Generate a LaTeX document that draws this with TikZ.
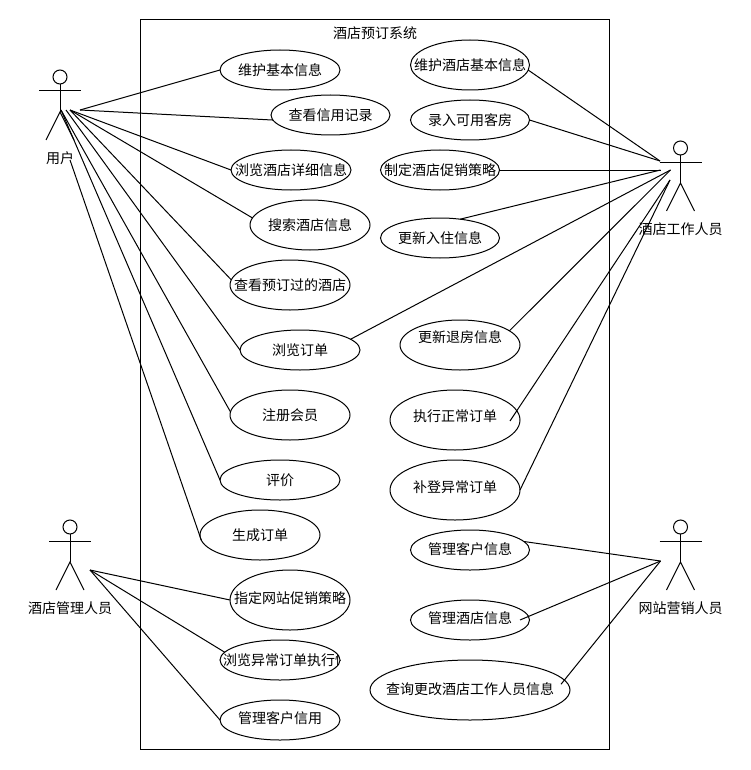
\documentclass[tikz,border=0pt]{standalone}
\usepackage{fontspec}
\setmainfont{Noto Sans CJK SC}
\usetikzlibrary{shapes.geometric}
\tikzset{
    usecase/.style={draw,ellipse,line width=.75pt,inner sep=0pt,outer sep=0pt},
    figure/.style={line width=.75pt},
    assoc/.style={line width=.75pt},
    caption/.style={inner sep=0pt}
}
\begin{document}
\begin{tikzpicture}[x=.75pt,y=-.75pt,font=\fontsize{10.5}{12}\selectfont]
    \useasboundingbox (0,0) rectangle (750,770);
    \node[inner sep=0pt,outer sep=0pt,minimum width=469*.75pt,minimum height=729*.75pt,draw,line width=.75pt] (system) at (374.5,384.5) {};
    \node[caption] (title) at (375,33) {酒店预订系统};
    \foreach \x/\y/\w/\h/\dy/\name/\txt in {
        280/70/120/40/0/maintain/维护基本信息,
        330.5/115/119/40/0/credit/查看信用记录,
        291/170/120/40/0/hotelDetail/浏览酒店详细信息,
        310/225/120/50/0/search/搜索酒店信息,
        290/285/120/50/0/booked/查看预订过的酒店,
        300/350/120/40/0/browseOrder/浏览订单,
        290/415/120/50/0/register/注册会员,
        280/480/120/40/0/review/评价,
        260/535/120/50/0/genOrder/生成订单,
        290/600/120/60/2/sitePromo/指定网站促销策略,
        280/720/120/40/2/clientCredit/管理客户信用,
        470/65/119/50/0/maintainHotel/维护酒店基本信息,
        470/120/119/40/0/enterRoom/录入可用客房,
        440/170/119/40/0/hotelPromo/制定酒店促销策略,
        440/238/119/40/0/checkIn/更新入住信息,
        460/345/120/50/8/checkOut/更新退房信息,
        455/420/130/60/4/execOrder/执行正常订单,
        455/490/130/60/3/fixOrder/补登异常订单,
        470/550/119/40/1/manageClient/管理客户信息,
        470/620/119/40/2/manageHotel/管理酒店信息,
        470/690/200/60/1/queryStaff/查询更改酒店工作人员信息}{
        \node[usecase,minimum width=\w*.75pt,minimum height=\h*.75pt,
            label={[caption,yshift=\dy*.75pt]center:\txt}] (\name) at (\x,\y) {};
    };
    \node[usecase,minimum width=120*.75pt,minimum height=40*.75pt,
        path picture={\node[caption,xshift=6*.75pt] at (path picture bounding box.center) {浏览异常订单执行情};}] (abnormal) at (280,660) {};
    \foreach \ax/\ay/\aname/\txt in {60/77/user/用户,70/527/manager/酒店管理人员,680.5/148/staff/酒店工作人员,680.5/527/sales/网站营销人员}{
        \node[draw,circle,figure,minimum size=14*.75pt,inner sep=0pt,outer sep=0pt] (\aname) at (\ax,\ay) {};
        \coordinate (\aname-hip) at (\ax,\ay+35);
        \draw[figure] (\aname.south) -- (\aname-hip);
        \draw[figure] (\ax-21,\ay+14) -- (\ax+21,\ay+14);
        \draw[figure] (\ax-14,\ay+63) -- (\aname-hip) -- (\ax+14,\ay+63);
        \node[caption] (\aname-name) at (\ax,\ay+81) {\txt};
    };
    \coordinate (userA) at (80,110);
    \coordinate (userB) at (70,110);
    \coordinate (userC) at (66,110);
    \coordinate (userD) at (61,110);
    \coordinate (userE) at (70,160);
    \coordinate (managerA) at (90,570);
    \coordinate (staffA) at (660,161);
    \coordinate (staffB) at (660.5,170);
    \coordinate (staffC) at (670.5,170);
    \coordinate (staffD) at (670,180);
    \coordinate (salesA) at (660.5,561);
    \coordinate (execIn) at (510,421);
    \coordinate (hotelIn) at (520,620);
    \foreach \a/\b in {
        userA/maintain.west,userA/credit.185,userB/hotelDetail.west,userB/search.173,userB/booked.175,
        userC/browseOrder.west,userD/register.177,userD/review.west,userE/genOrder.185,
        managerA/sitePromo.west,managerA/abnormal.172,managerA/clientCredit.west,
        staffA/maintainHotel.-5,staffA/enterRoom.east,staffB/hotelPromo.east,staffB/checkIn.43,
        staffC/browseOrder.12,staffC/checkOut.16,staffD/execIn,staffD/fixOrder.east,
        salesA/manageClient.9,salesA/hotelIn}{
        \draw[assoc] (\a) -- (\b);
    };
    \draw[assoc,shorten >=-4pt] (salesA) -- (queryStaff.6);
\end{tikzpicture}
\end{document}
